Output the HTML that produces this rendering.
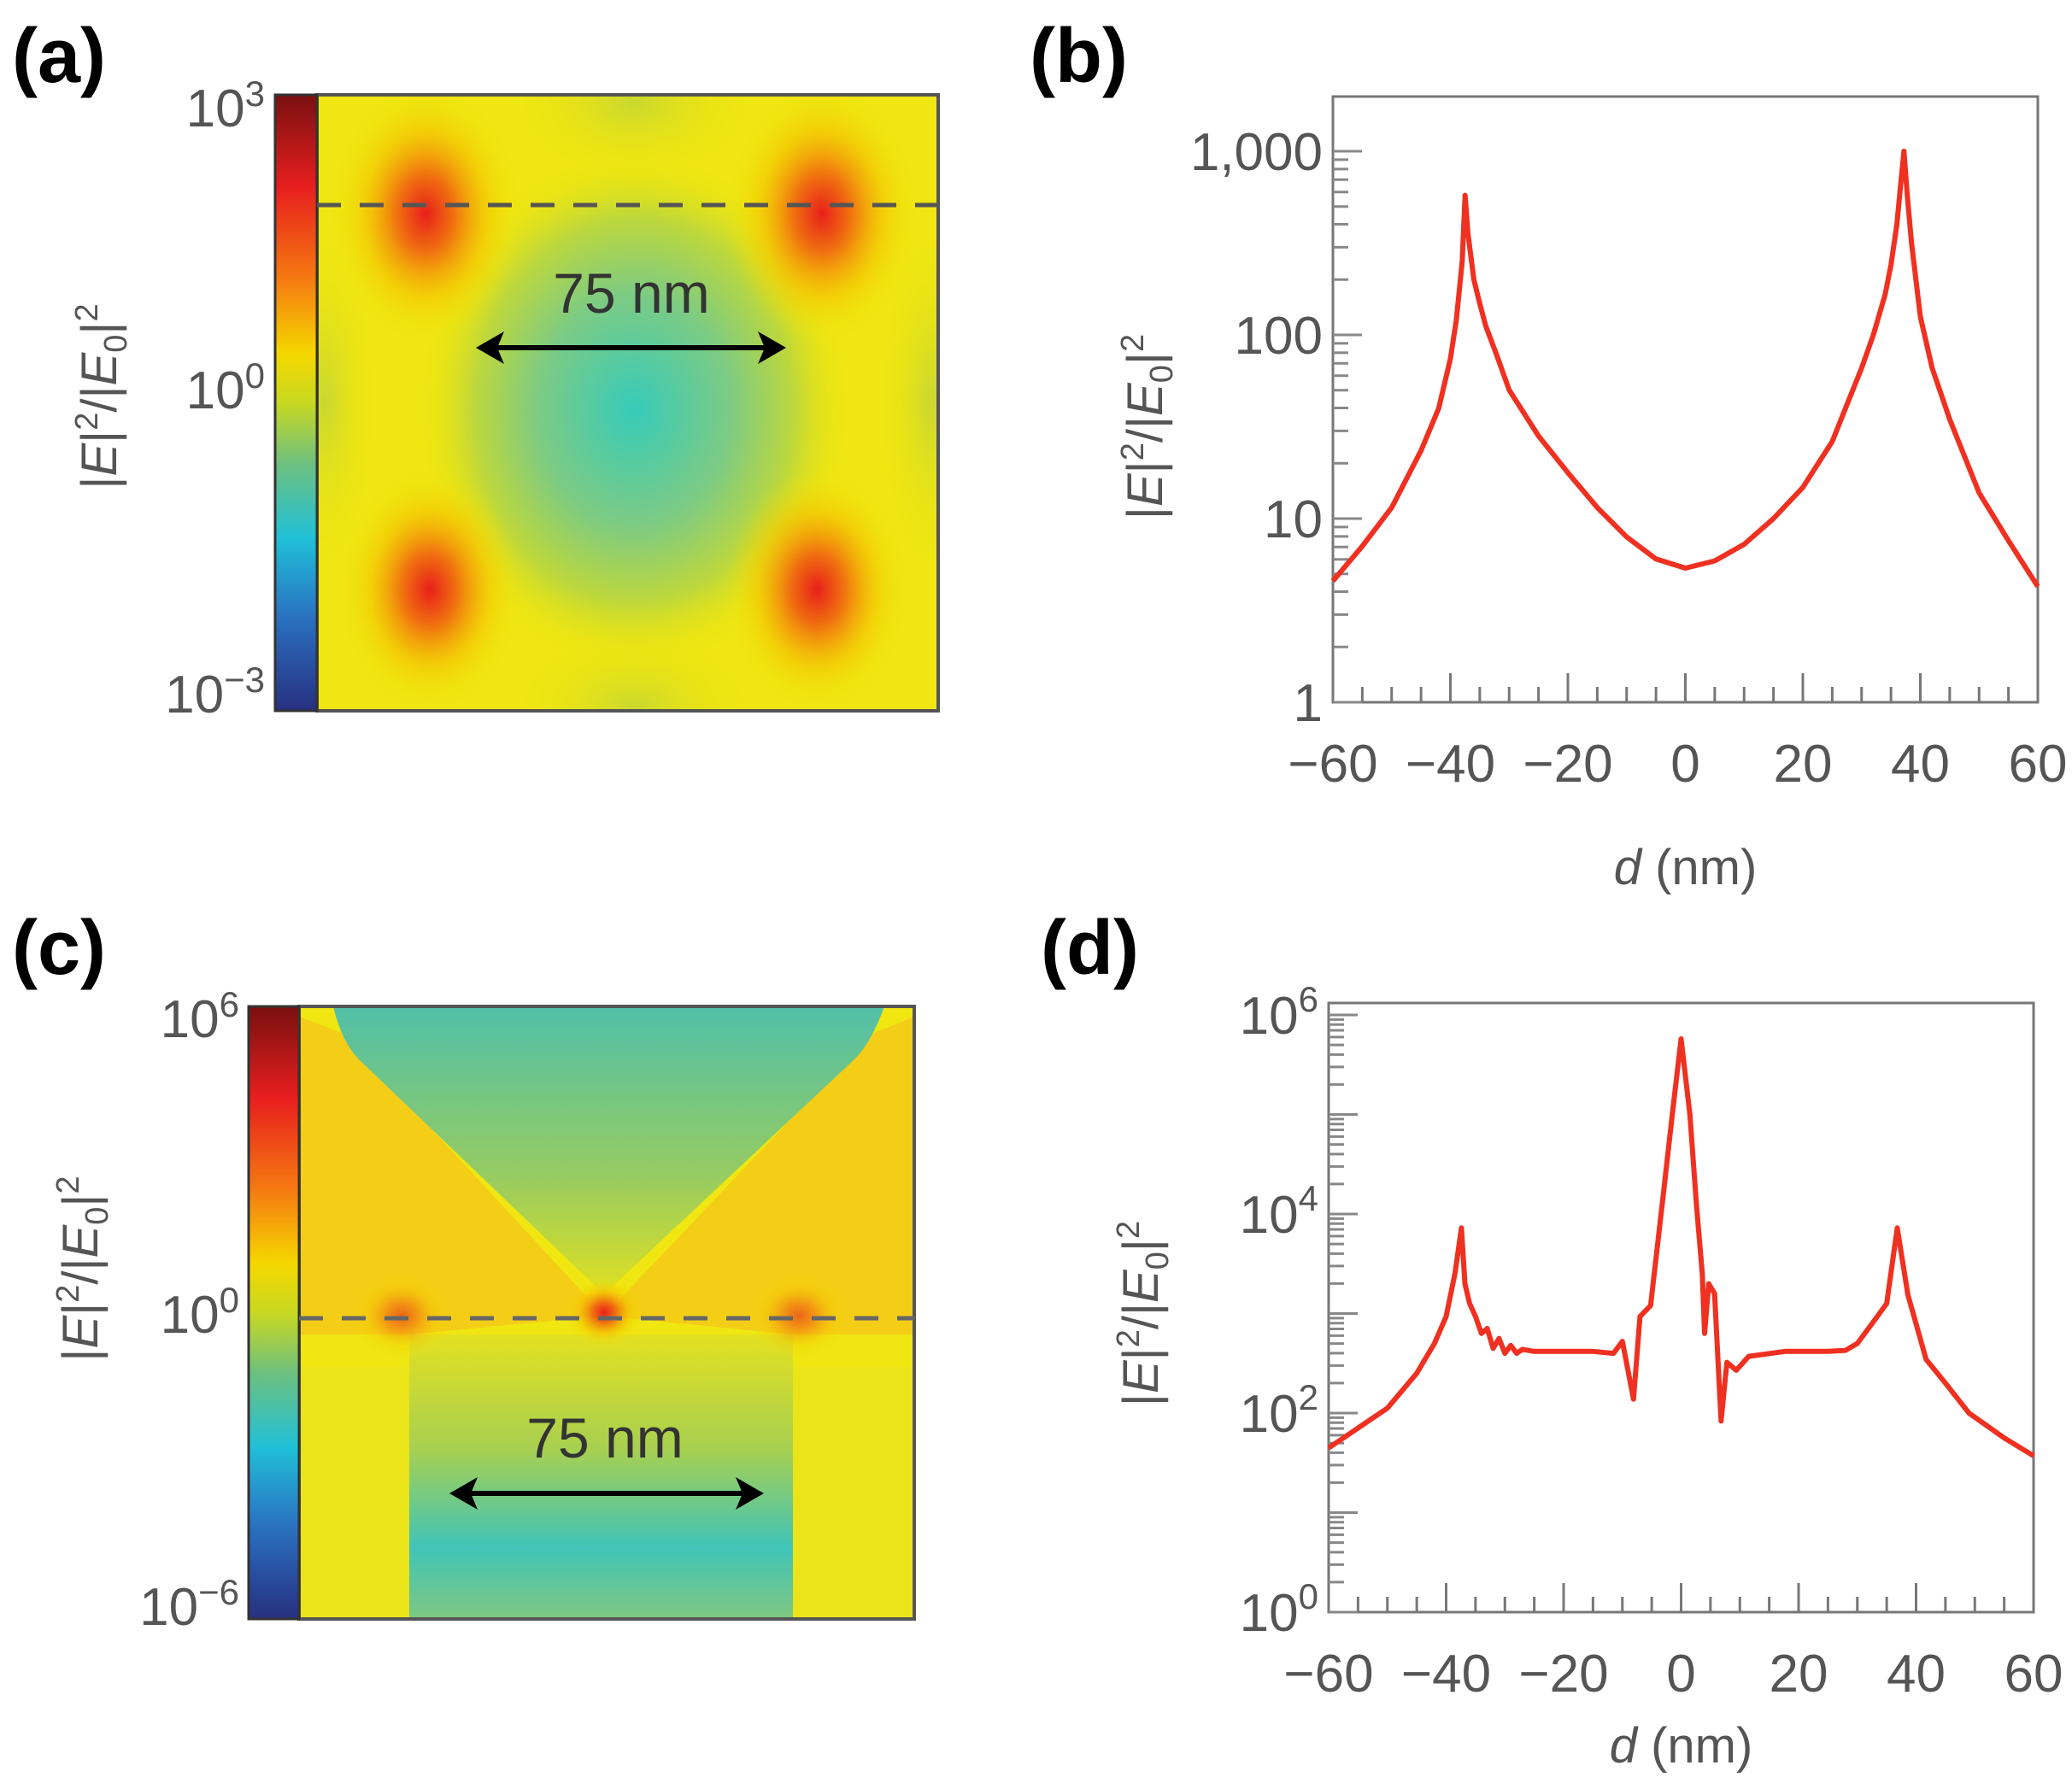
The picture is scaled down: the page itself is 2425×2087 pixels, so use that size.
<!DOCTYPE html>
<html><head><meta charset="utf-8">
<style>
html,body{margin:0;padding:0;background:#fff;}
svg{display:block;font-family:"Liberation Sans",sans-serif;}
.lbl{font-weight:bold;font-size:90px;fill:#000;}
.tk{font-size:62px;fill:#555;}
.ttl{font-size:58px;fill:#555;}
</style></head>
<body>
<svg id="fig" width="2425" height="2087" viewBox="0 0 2425 2087" xmlns="http://www.w3.org/2000/svg">
<defs>
<linearGradient id="cbar" x1="0" y1="0" x2="0" y2="1">
<stop offset="0" stop-color="#7a1010"/><stop offset="0.15" stop-color="#e81e1e"/><stop offset="0.3" stop-color="#f57a10"/><stop offset="0.42" stop-color="#f5d800"/><stop offset="0.5" stop-color="#c8d820"/><stop offset="0.6" stop-color="#6cc080"/><stop offset="0.72" stop-color="#20c0d8"/><stop offset="0.85" stop-color="#2a70c0"/><stop offset="1" stop-color="#283080"/>
</linearGradient>
<radialGradient id="hot"><stop offset="0" stop-color="#e8201a"/><stop offset="0.3" stop-color="#f07010"/><stop offset="0.65" stop-color="#f5c000" stop-opacity="0.6"/><stop offset="1" stop-color="#f2e600" stop-opacity="0"/></radialGradient>
<radialGradient id="cool"><stop offset="0" stop-color="#22c8cc"/><stop offset="0.45" stop-color="#70c890"/><stop offset="0.75" stop-color="#b8d640"/><stop offset="1" stop-color="#e8e410" stop-opacity="0"/></radialGradient>
<radialGradient id="faint"><stop offset="0" stop-color="#c8d830"/><stop offset="1" stop-color="#eee410" stop-opacity="0"/></radialGradient>
<linearGradient id="vgreen" x1="0" y1="0" x2="0" y2="1"><stop offset="0" stop-color="#50c0a8"/><stop offset="0.6" stop-color="#98cc60"/><stop offset="1" stop-color="#e0e020"/></linearGradient>
<linearGradient id="rgreen" x1="0" y1="0" x2="0" y2="1"><stop offset="0" stop-color="#e4e020"/><stop offset="0.4" stop-color="#a8d050"/><stop offset="0.75" stop-color="#40c4b8"/><stop offset="1" stop-color="#80c880"/></linearGradient>
<clipPath id="clipA"><rect x="371" y="111" width="727" height="721"/></clipPath>
<clipPath id="clipC"><rect x="350" y="1178" width="720" height="717"/></clipPath>
</defs>

<text class="lbl" x="14" y="96">(a)</text>
<g clip-path="url(#clipA)">
<rect x="371" y="111" width="727" height="721" fill="#efe612"/>
<ellipse cx="742" cy="120" rx="140" ry="90" fill="url(#faint)"/>
<ellipse cx="742" cy="830" rx="140" ry="90" fill="url(#faint)"/>
<ellipse cx="380" cy="470" rx="60" ry="200" fill="url(#faint)"/>
<ellipse cx="1090" cy="470" rx="60" ry="200" fill="url(#faint)"/>
<ellipse cx="742" cy="480" rx="250" ry="300" fill="url(#cool)" opacity="0.9"/>
<ellipse cx="498" cy="250" rx="110" ry="150" fill="url(#hot)"/>
<ellipse cx="962" cy="250" rx="110" ry="150" fill="url(#hot)"/>
<ellipse cx="503" cy="690" rx="105" ry="140" fill="url(#hot)"/>
<ellipse cx="956" cy="690" rx="105" ry="140" fill="url(#hot)"/>
</g>
<rect x="371" y="111" width="727" height="721" fill="none" stroke="#555" stroke-width="4"/>
<rect x="322" y="111" width="49" height="721" fill="url(#cbar)" stroke="#333" stroke-width="3"/>
<line x1="371" y1="240" x2="1098" y2="240" stroke="#555" stroke-width="5" stroke-dasharray="28,22"/>
<text x="739" y="366" text-anchor="middle" font-size="66" fill="#333">75 nm</text>
<g>
<line x1="570" y1="407" x2="908" y2="407" stroke="#000" stroke-width="6"/>
<polygon points="557,407 590,388 582,407 590,426" fill="#000"/><polygon points="920,407 887,388 895,407 887,426" fill="#000"/>
</g>
<text class="tk" x="310" y="148" text-anchor="end">10<tspan font-size="42" dy="-24">3</tspan></text>
<text class="tk" x="310" y="478" text-anchor="end">10<tspan font-size="42" dy="-24">0</tspan></text>
<text class="tk" x="310" y="834" text-anchor="end">10<tspan font-size="42" dy="-24">−3</tspan></text>
<text class="ttl" transform="translate(136,464) rotate(-90)" text-anchor="middle">|<tspan font-style="italic">E</tspan>|<tspan font-size="38" dy="-22">2</tspan><tspan dy="22">/|</tspan><tspan font-style="italic">E</tspan><tspan font-size="38" dy="12">0</tspan><tspan dy="-12">|</tspan><tspan font-size="38" dy="-22">2</tspan></text>

<text class="lbl" x="14" y="1140">(c)</text>
<g clip-path="url(#clipC)">
<rect x="350" y="1178" width="720" height="717" fill="#efe612"/>
<polygon points="350,1190 402,1210 707,1540 479,1562 350,1562" fill="#f5c818" opacity="0.85"/>
<polygon points="1070,1190 1021,1210 707,1540 928,1562 1070,1562" fill="#f5c818" opacity="0.85"/>
<path d="M390,1178 L1035,1178 Q1020,1220 1000,1240 L707,1515 L420,1240 Q400,1220 390,1178 Z" fill="url(#vgreen)"/>
<rect x="479" y="1562" width="449" height="333" fill="url(#rgreen)"/>
<rect x="350" y="1600" width="129" height="295" fill="#eae418"/>
<rect x="928" y="1600" width="142" height="295" fill="#eae418"/>
<ellipse cx="707" cy="1536" rx="45" ry="40" fill="url(#hot)"/>
<ellipse cx="470" cy="1540" rx="60" ry="50" fill="url(#hot)" opacity="0.6"/>
<ellipse cx="935" cy="1540" rx="60" ry="50" fill="url(#hot)" opacity="0.6"/>
</g>
<rect x="350" y="1178" width="720" height="717" fill="none" stroke="#555" stroke-width="4"/>
<rect x="291" y="1178" width="59" height="717" fill="url(#cbar)" stroke="#333" stroke-width="3"/>
<line x1="350" y1="1543" x2="1070" y2="1543" stroke="#666" stroke-width="5" stroke-dasharray="28,22"/>
<text x="708" y="1706" text-anchor="middle" font-size="66" fill="#333">75 nm</text>
<g>
<line x1="540" y1="1748" x2="880" y2="1748" stroke="#000" stroke-width="6"/>
<polygon points="526,1748 559,1729 551,1748 559,1767" fill="#000"/><polygon points="894,1748 861,1729 869,1748 861,1767" fill="#000"/>
</g>
<text class="tk" x="280" y="1214" text-anchor="end">10<tspan font-size="42" dy="-24">6</tspan></text>
<text class="tk" x="280" y="1560" text-anchor="end">10<tspan font-size="42" dy="-24">0</tspan></text>
<text class="tk" x="280" y="1902" text-anchor="end">10<tspan font-size="42" dy="-24">−6</tspan></text>
<text class="ttl" transform="translate(114,1485) rotate(-90)" text-anchor="middle">|<tspan font-style="italic">E</tspan>|<tspan font-size="38" dy="-22">2</tspan><tspan dy="22">/|</tspan><tspan font-style="italic">E</tspan><tspan font-size="38" dy="12">0</tspan><tspan dy="-12">|</tspan><tspan font-size="38" dy="-22">2</tspan></text>

<text class="lbl" x="1205" y="96">(b)</text>
<text class="lbl" x="1218" y="1140">(d)</text>
<g id="chartB"></g>
<g id="chartD"></g>
</svg>
<script>
// Panel b data (log10 of |E|^2/|E0|^2)
const bX = [-60,-55,-50,-45,-42,-40,-39,-38,-37.5,-37,-36,-35,-34,-32,-30,-25,-20,-15,-10,-5,0,5,10,15,20,25,30,32,34,35,36,36.6,37.2,37.8,38.5,40,42,45,50,55,60];
const bLog = [0.66,0.85,1.06,1.37,1.6,1.87,2.08,2.4,2.76,2.55,2.3,2.17,2.05,1.88,1.70,1.45,1.25,1.06,0.90,0.78,0.73,0.77,0.86,1.0,1.17,1.42,1.82,2.0,2.22,2.38,2.6,2.8,3.0,2.75,2.5,2.1,1.82,1.54,1.14,0.88,0.63];
const bYTicks = ["1","10","100","1,000"];
const xTicks = ["−60","−40","−20","0","20","40","60"];
// Panel d data
const dX = [-60,-55,-50,-45,-42,-40,-38.5,-37.4,-36.8,-36,-35,-34,-33,-32,-31,-30,-29,-28,-27,-25,-20,-15,-11.5,-10,-8.1,-7,-5.2,-3.1,-1.5,0,1.5,2.6,3.6,4,4.7,5.7,6.8,7.8,9.4,11.5,17.7,25,28,30,33.4,35,36.8,38.6,41.7,45,49,55,60];
const dLog = [1.65,1.85,2.05,2.40,2.7,2.97,3.4,3.86,3.3,3.1,2.97,2.8,2.85,2.65,2.75,2.6,2.68,2.6,2.64,2.62,2.62,2.62,2.6,2.72,2.14,2.97,3.08,4.16,5.0,5.76,5.0,4.1,3.4,2.8,3.3,3.2,1.92,2.51,2.43,2.57,2.62,2.62,2.63,2.7,2.97,3.1,3.86,3.19,2.54,2.3,2.0,1.75,1.57];
const dYTicks = ["0","2","4","6"];
const NS='http://www.w3.org/2000/svg';
function mk(parent, tag, attrs){const e=document.createElementNS(NS,tag);for(const k in attrs)e.setAttribute(k,attrs[k]);parent.appendChild(e);return e;}

function drawChart(gid, box, xs, ys, yMinLog, yMaxLog, yTickLabels, yTickStep, sup, yTop, xtOff){
  const g=document.getElementById(gid);
  const X=v=>box.l+(v+60)/120*(box.r-box.l);
  const Y=lv=>box.yb-(lv-yMinLog)/(yMaxLog-yMinLog)*(box.yb-box.yt);
  const fr=mk(g,'rect',{x:box.l,y:yTop,width:box.r-box.l,height:box.yb-yTop,fill:'none',stroke:'#777','stroke-width':3});
  
  
  for(let v=-60;v<=60;v+=5){
    const major=(v%20===0);
    const t=mk(g,'line',{x1:X(v),x2:X(v),y1:box.yb,y2:box.yb-(major?34:18),stroke:'#777','stroke-width':3});
    
    
  }
  xTicks.forEach((s,i)=>{
    const t=mk(g,'text',{x:X(-60+20*i),y:box.yb+93,'text-anchor':'middle','class':'tk'});
    t.textContent=s;
    
    
  });
  for(let d=yMinLog; d<yMaxLog; d++){
    for(let m=1;m<10;m++){
      const lv=d+Math.log10(m);
      const t=mk(g,'line',{x1:box.l,x2:box.l+(m===1?34:18),y1:Y(lv),y2:Y(lv),stroke:'#888','stroke-width':3});
      
      
    }
  }
  const tt=mk(g,'line',{x1:box.l,x2:box.l+34,y1:Y(yMaxLog),y2:Y(yMaxLog),stroke:'#888','stroke-width':3});
  
  
  yTickLabels.forEach((s,i)=>{
    const t=mk(g,'text',{x:box.l-12,y:Y(yMinLog+i*yTickStep)+22,'text-anchor':'end','class':'tk'});
    if(sup){t.innerHTML='10<tspan font-size="42" dy="-26">'+s+'</tspan>';}else{t.textContent=s;}
    
    
  });
  const yt=mk(g,'text',{transform:'translate('+(box.l-200)+','+((box.yt+box.yb)/2)+') rotate(-90)','text-anchor':'middle','class':'ttl'});
  yt.innerHTML='|<tspan font-style="italic">E</tspan>|<tspan font-size="38" dy="-22">2</tspan><tspan dy="22">/|</tspan><tspan font-style="italic">E</tspan><tspan font-size="38" dy="12">0</tspan><tspan dy="-12">|</tspan><tspan font-size="38" dy="-22">2</tspan>';
  
  
  const xt=mk(g,'text',{x:(box.l+box.r)/2,y:box.yb+xtOff,'text-anchor':'middle','class':'ttl'});
  xt.innerHTML='<tspan font-style="italic">d</tspan> (nm)';
  
  
  let dstr='';
  xs.forEach((v,i)=>{dstr+=(i?'L':'M')+X(v).toFixed(1)+','+Y(ys[i]).toFixed(1);});
  const p=mk(g,'path',{d:dstr,fill:'none',stroke:'#f03020','stroke-width':6,'stroke-linejoin':'round'});
  
  
}
drawChart('chartB',{l:1560,r:2385,yt:177,yb:822},bX,bLog,0,3,bYTicks,1,false,113,213);
drawChart('chartD',{l:1555,r:2380,yt:1188,yb:1887},dX,dLog,0,6,dYTicks,2,true,1174,176);
</script>
</body></html>
